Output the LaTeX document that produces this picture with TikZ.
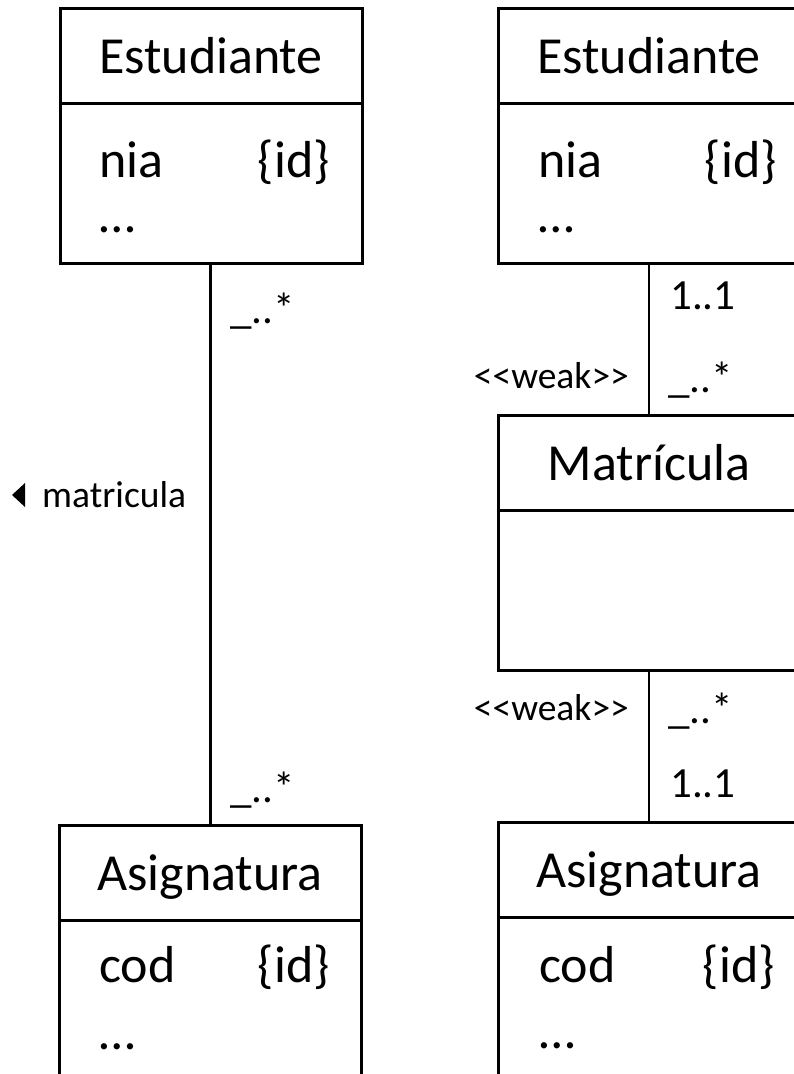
\documentclass[tikz,border=0pt]{standalone}
\usepackage{fontspec}
\newfontfamily\umlfont{Carlito}
\usetikzlibrary{positioning}
\tikzset{
  hdr/.style={draw=black,line width=3pt,minimum width=302pt,minimum height=95pt,inner sep=0pt,outer sep=0pt,
    text height=65pt,text depth=30pt,font=\umlfont\fontsize{52}{60}\selectfont},
  body/.style={draw=black,line width=3pt,minimum width=302pt,minimum height=160pt,inner sep=0pt,outer sep=0pt},
  attr/.style={inner sep=0pt,font=\umlfont\fontsize{52}{60}\selectfont},
  mult/.style={inner sep=0pt,font=\umlfont\fontsize{43}{50}\selectfont},
  lbl/.style={inner sep=0pt,font=\umlfont\fontsize{37.5}{44}\selectfont},
  assoc/.style={draw=black,line width=2.5pt},
}
\begin{document}
\begin{tikzpicture}[x=1pt,y=-1pt]
\useasboundingbox (0,0) rectangle (794,1074);
% left: plain association
\node[hdr] (estL) at (211,55.5) {Estudiante};
\node[body,below=0pt of estL] (estLb) {};
\node[attr,anchor=base west] (niaL) at (99,177) {nia};
\node[attr,anchor=base east] (idL) at (330,177) {\{id\}};
\node[attr,anchor=base west] (dotsL) at (99,232) {…};
\node[hdr] (asiL) at (210,872.5) {Asignatura};
\node[body,below=0pt of asiL] (asiLb) {};
\node[attr,anchor=base west] (codL) at (99,982) {cod};
\node[attr,anchor=base east] (idLa) at (330,982) {\{id\}};
\node[attr,anchor=base west] (dotsLa) at (99,1049) {…};
\draw[assoc] (estLb.south -| 210.5,0) -- (asiL.north -| 210.5,0);
\node[mult,anchor=base west] (mLa) at (230,323) {\_..*};
\node[mult,anchor=base west] (mLb) at (230,802) {\_..*};
\node[lbl,anchor=base west] (matr) at (42,507) {matricula};
\fill (12,495) -- (25,483) -- (25,507) -- cycle;
% right: weak entity
\node[hdr] (estR) at (649,55.5) {Estudiante};
\node[body,below=0pt of estR] (estRb) {};
\node[attr,anchor=base west] (niaR) at (538,177) {nia};
\node[attr,anchor=base east] (idR) at (777,177) {\{id\}};
\node[attr,anchor=base west] (dotsR) at (538,232) {…};
\node[hdr] (matR) at (649,462.5) {Matrícula};
\node[body,below=0pt of matR] (matRb) {};
\node[hdr] (asiR) at (649,870) {Asignatura};
\node[body,below=0pt of asiR] (asiRb) {};
\node[attr,anchor=base west] (codR) at (539,982) {cod};
\node[attr,anchor=base east] (idRa) at (775,982) {\{id\}};
\node[attr,anchor=base west] (dotsRa) at (539,1048) {…};
\draw[assoc] (estRb.south) -- (matR.north);
\draw[assoc] (matRb.south) -- (asiR.north);
\node[mult,anchor=base west] (mRa) at (670,309) {1..1};
\node[mult,anchor=base west] (mRb) at (668,392) {\_..*};
\node[mult,anchor=base west] (mRc) at (668,723) {\_..*};
\node[mult,anchor=base west] (mRd) at (670,797) {1..1};
\node[lbl,anchor=base east] (weakA) at (629,388) {<<weak>>};
\node[lbl,anchor=base east] (weakB) at (629,720) {<<weak>>};
\end{tikzpicture}
\end{document}
